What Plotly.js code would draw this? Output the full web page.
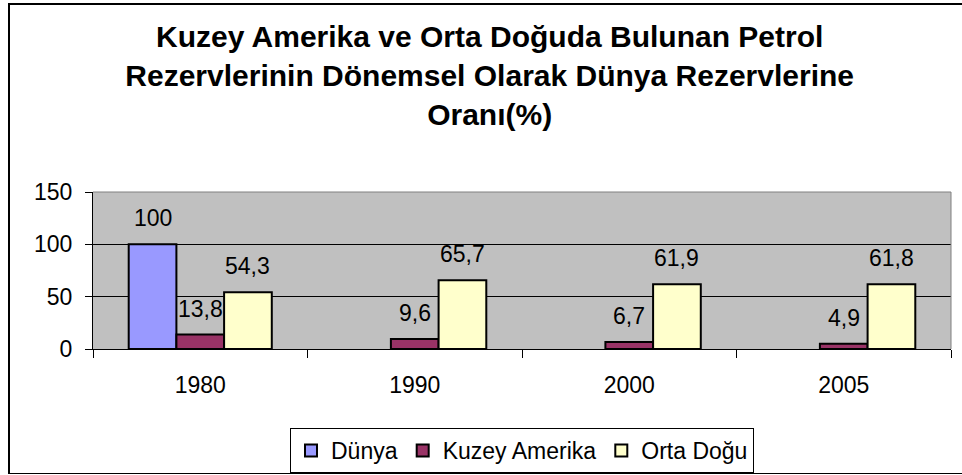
<!DOCTYPE html>
<html>
<head>
<meta charset="utf-8">
<script src="https://cdn.plot.ly/plotly-3.0.1.min.js"></script>
<style>
  html, body { margin: 0; padding: 0; background: #ffffff; overflow: hidden; }
  #wrap { position: relative; width: 962px; height: 475px; overflow: hidden; }
  .edge { position: absolute; background: #000; }
  #edgeTop { left: 8px; top: 3px; width: 954px; height: 1.5px; }
  #edgeLeft { left: 8px; top: 3px; width: 1.5px; height: 471px; }
  #edgeBottom { left: 8px; top: 472.5px; width: 954px; height: 1.5px; }
  #chart { position: absolute; left: 0; top: 0; width: 962px; height: 475px; }
</style>
</head>
<body>
<div id="wrap">
  <div class="edge" id="edgeTop"></div>
  <div class="edge" id="edgeLeft"></div>
  <div class="edge" id="edgeBottom"></div>
  <div id="chart"></div>
</div>
<script>
const categories = ["1980", "1990", "2000", "2005"];
const seriesNames = ["Dünya", "Kuzey Amerika", "Orta Doğu"];
const dunya = [100, null, null, null];
const kuzeyAmerika = [13.8, 9.6, 6.7, 4.9];
const ortaDogu = [54.3, 65.7, 61.9, 61.8];
const yTicks = [0, 50, 100, 150];

const colors = ["#9999FF", "#993366", "#FFFFCC"];
const FONT = "Liberation Sans, Arial, Helvetica, sans-serif";
const seriesValues = [dunya, kuzeyAmerika, ortaDogu];
const bargap = 0.333;

const traces = seriesValues.map((vals, k) => ({
  type: "bar",
  name: seriesNames[k],
  x: categories,
  y: vals,
  marker: { color: colors[k], line: { color: "#000000", width: 2 } },
  hoverinfo: "skip"
}));

const fmt = v => String(v).replace(".", ",");
const barW = (1 - bargap) / seriesValues.length;
const annotations = [];
seriesValues.forEach((vals, k) => {
  vals.forEach((v, i) => {
    if (v === null || v === undefined) return;
    annotations.push({
      x: i + (k - (seriesValues.length - 1) / 2) * barW,
      y: v,
      xref: "x", yref: "y",
      text: fmt(v),
      showarrow: false,
      yshift: 26,
      yanchor: "middle",
      font: { family: FONT, size: 23, color: "#000" }
    });
  });
});

const layout = {
  width: 962, height: 475,
  paper_bgcolor: "rgba(0,0,0,0)",
  plot_bgcolor: "#C0C0C0",
  margin: { l: 93, r: 11, t: 192, b: 126 },
  font: { family: FONT, size: 23, color: "#000" },
  title: {
    text: "Kuzey Amerika ve Orta Doğuda Bulunan Petrol<br>Rezervlerinin Dönemsel Olarak Dünya Rezervlerine<br>Oranı(%)",
    font: { family: FONT, size: 30, weight: 700, color: "#000" },
    x: 0.509, xref: "container", xanchor: "center",
    y: 1 - 47 / 475, yref: "container", yanchor: "top"
  },
  barmode: "group",
  bargap: bargap,
  bargroupgap: 0,
  showlegend: true,
  legend: {
    orientation: "h",
    x: 0.5, xanchor: "center",
    y: 1 - 428 / 475, yref: "container", yanchor: "top",
    bordercolor: "#000", borderwidth: 1,
    font: { family: FONT, size: 23, color: "#000" },
    traceorder: "normal",
    itemclick: false, itemdoubleclick: false
  },
  xaxis: {
    type: "category",
    showline: true, linecolor: "#000", linewidth: 1,
    ticks: "outside", tickson: "boundaries", ticklen: 8, tickcolor: "#000", tickwidth: 1,
    ticklabelstandoff: 15,
    showgrid: false, zeroline: false,
    tickfont: { family: FONT, size: 23, color: "#000" },
    fixedrange: true
  },
  yaxis: {
    range: [0, 150],
    tickvals: yTicks,
    ticktext: yTicks.map(String),
    showline: true, linecolor: "#000", linewidth: 1,
    ticks: "outside", ticklen: 7, tickcolor: "#000", tickwidth: 1,
    ticklabelstandoff: 8,
    showgrid: true, gridcolor: "#000", gridwidth: 1,
    zeroline: false,
    tickfont: { family: FONT, size: 23, color: "#000" },
    fixedrange: true
  },
  annotations: annotations,
  shapes: [
    { type: "line", xref: "paper", yref: "paper", x0: 0, x1: 1, y0: 1, y1: 1, line: { color: "#808080", width: 1 } },
    { type: "line", xref: "paper", yref: "paper", x0: 1, x1: 1, y0: 0, y1: 1, line: { color: "#808080", width: 1 } }
  ]
};

Plotly.newPlot("chart", traces, layout, { displayModeBar: false, staticPlot: true });
</script>
</body>
</html>
